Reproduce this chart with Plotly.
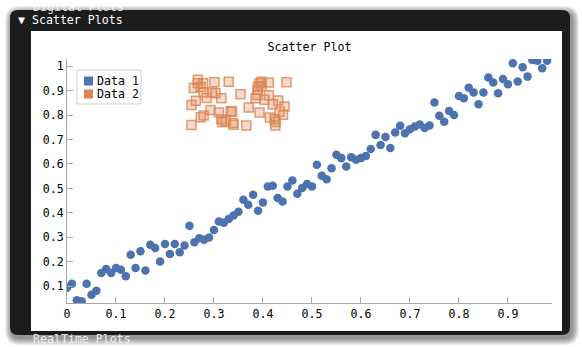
import plotly.graph_objects as go

# ---------------- data ----------------
data1_x = [i * 0.01 for i in range(100)]
data1_y = [0.094, 0.111, 0.043, 0.039, 0.111, 0.066, 0.082, 0.155, 0.171, 0.155,
           0.175, 0.168, 0.141, 0.229, 0.175, 0.243, 0.165, 0.270, 0.257, 0.202,
           0.273, 0.232, 0.273, 0.239, 0.267, 0.348, 0.280, 0.297, 0.290, 0.300,
           0.330, 0.365, 0.360, 0.375, 0.390, 0.405, 0.454, 0.433, 0.474, 0.409,
           0.443, 0.508, 0.511, 0.461, 0.447, 0.508, 0.533, 0.478, 0.502, 0.518,
           0.508, 0.597, 0.552, 0.538, 0.583, 0.638, 0.624, 0.590, 0.628, 0.617,
           0.624, 0.633, 0.661, 0.719, 0.678, 0.710, 0.665, 0.729, 0.756, 0.726,
           0.742, 0.753, 0.761, 0.747, 0.757, 0.851, 0.797, 0.773, 0.817, 0.800,
           0.878, 0.869, 0.912, 0.892, 0.844, 0.892, 0.953, 0.933, 0.889, 0.947,
           0.926, 1.012, 0.937, 0.995, 0.957, 1.025, 1.022, 0.991, 1.022, 1.050]

data2_x = [0.254, 0.254, 0.263, 0.259, 0.267, 0.278, 0.273, 0.279, 0.273, 0.279,
           0.293, 0.296, 0.303, 0.301, 0.315, 0.310, 0.315, 0.317, 0.330, 0.334,
           0.337, 0.339, 0.340, 0.354, 0.366, 0.371, 0.385, 0.389, 0.390, 0.393,
           0.397, 0.412, 0.393, 0.412, 0.420, 0.431, 0.444, 0.448, 0.414, 0.424,
           0.441, 0.425, 0.426, 0.389, 0.267, 0.324, 0.434, 0.397, 0.285, 0.403]
data2_y = [0.759, 0.841, 0.858, 0.910, 0.930, 0.930, 0.915, 0.892, 0.791, 0.798,
           0.821, 0.892, 0.889, 0.934, 0.869, 0.810, 0.783, 0.771, 0.936, 0.817,
           0.813, 0.767, 0.760, 0.885, 0.757, 0.831, 0.869, 0.882, 0.916, 0.930,
           0.936, 0.933, 0.810, 0.881, 0.844, 0.859, 0.835, 0.934, 0.790, 0.783,
           0.801, 0.757, 0.772, 0.903, 0.944, 0.776, 0.813, 0.919, 0.870, 0.862]

series_names = ["Data 1", "Data 2"]
x_tickvals = [0, 0.1, 0.2, 0.3, 0.4, 0.5, 0.6, 0.7, 0.8, 0.9]
x_ticktext = ["0", "0.1", "0.2", "0.3", "0.4", "0.5", "0.6", "0.7", "0.8", "0.9"]
y_tickvals = [0.1, 0.2, 0.3, 0.4, 0.5, 0.6, 0.7, 0.8, 0.9, 1.0]
y_ticktext = ["0.1", "0.2", "0.3", "0.4", "0.5", "0.6", "0.7", "0.8", "0.9", "1"]

# ---------------- style ----------------
W, H = 582, 347
L, R, T, B = 67, 552, 59, 303
BLUE = "#4C72B0"
ORANGE = "#DD8452"
FONT = "DejaVu Sans Mono"
FS = 11.6


def px(x):
    return (x - L) / (R - L)


def py(y):
    return (B - y) / (B - T)


def rrect(x0, y0, x1, y1, r):
    X0, X1 = px(x0), px(x1)
    Y0, Y1 = py(y0), py(y1)
    rx = r / (R - L)
    ry = r / (B - T)
    return (f"M{X0 + rx},{Y0} L{X1 - rx},{Y0} Q{X1},{Y0} {X1},{Y0 - ry} "
            f"L{X1},{Y1 + ry} Q{X1},{Y1} {X1 - rx},{Y1} L{X0 + rx},{Y1} "
            f"Q{X0},{Y1} {X0},{Y1 + ry} L{X0},{Y0 - ry} Q{X0},{Y0} {X0 + rx},{Y0} Z")


fig = go.Figure()

fig.add_trace(go.Scatter(
    x=data1_x, y=data1_y, mode="markers", name=series_names[0], showlegend=False,
    marker=dict(symbol="circle", size=8.5, color=BLUE, line=dict(width=0)),
    cliponaxis=True,
))
fig.add_trace(go.Scatter(
    x=data2_x, y=data2_y, mode="markers", name=series_names[1], showlegend=False,
    marker=dict(symbol="square", size=9, color="rgba(221,132,82,0.3)",
                line=dict(width=1.5, color="rgba(221,132,82,0.8)")),
    cliponaxis=True,
))

shapes = []
# soft drop shadow
for k in range(1, 8):
    shapes.append(dict(type="path", xref="paper", yref="paper", layer="below",
                       path=rrect(10 - k + 2, 10 - k + 3, 570 + k + 2, 335 + k + 3, 8 + k),
                       fillcolor="rgba(0,0,0,0.07)", line=dict(width=0)))
# dark window
shapes.append(dict(type="path", xref="paper", yref="paper", layer="below",
                   path=rrect(10, 10, 570, 335, 8),
                   fillcolor="#1b1c1e", line=dict(width=0)))
# white frame
shapes.append(dict(type="rect", xref="paper", yref="paper", layer="below",
                   x0=px(31), x1=px(562), y0=py(331), y1=py(31),
                   fillcolor="#ffffff", line=dict(width=0)))
# legend box and colour keys
shapes.append(dict(type="rect", xref="paper", yref="paper", layer="above",
                   x0=px(77), x1=px(141), y0=py(104), y1=py(70),
                   fillcolor="#ffffff", line=dict(width=1, color="#cfcfcf")))
legend_colors = [BLUE, ORANGE]
legend_rows = [81, 94]
for c, yc in zip(legend_colors, legend_rows):
    shapes.append(dict(type="rect", xref="paper", yref="paper", layer="above",
                       x0=px(84), x1=px(93), y0=py(yc + 4.5), y1=py(yc - 4.5),
                       fillcolor=c, line=dict(width=0)))

annotations = [
    dict(text="▼ Scatter Plots", xref="paper", yref="paper", x=px(16), y=py(20),
         xanchor="left", yanchor="middle", showarrow=False,
         font=dict(family=FONT, size=FS, color="#ffffff")),
    dict(text="Digital Plots", xref="paper", yref="paper", x=px(31), y=py(7),
         xanchor="left", yanchor="middle", showarrow=False,
         font=dict(family=FONT, size=FS, color="rgba(255,255,255,0.85)")),
    dict(text="RealTime Plots", xref="paper", yref="paper", x=px(31), y=py(339),
         xanchor="left", yanchor="middle", showarrow=False,
         font=dict(family=FONT, size=FS, color="rgba(255,255,255,0.85)")),
]
for name, yc in zip(series_names, legend_rows):
    annotations.append(dict(text=name, xref="paper", yref="paper", x=px(95), y=py(yc),
                            xanchor="left", yanchor="middle", showarrow=False,
                            font=dict(family=FONT, size=FS, color="#000000")))

fig.update_layout(
    width=W, height=H,
    margin=dict(l=L, r=W - R, t=T, b=H - B, pad=0),
    paper_bgcolor="#ffffff",
    plot_bgcolor="#eaf0fd",
    font=dict(family=FONT, size=FS, color="#000000"),
    title=dict(text="Scatter Plot", x=px(309.5), xref="paper", xanchor="center",
               y=1 - 47 / H, yref="container", yanchor="middle",
               font=dict(family=FONT, size=FS, color="#000000")),
    showlegend=False,
    shapes=shapes,
    annotations=annotations,
    xaxis=dict(range=[0, 0.99], tickvals=x_tickvals, ticktext=x_ticktext,
               showgrid=True, gridcolor="#ffffff", gridwidth=1, zeroline=False,
               showline=True, linecolor="#a8a8a8", linewidth=1,
               ticks="inside", ticklen=6, tickcolor="#a8a8a8",
               tickfont=dict(family=FONT, size=FS, color="#000000")),
    yaxis=dict(range=[0.032, 1.029], tickvals=y_tickvals, ticktext=y_ticktext,
               showgrid=True, gridcolor="#ffffff", gridwidth=1, zeroline=False,
               showline=True, linecolor="#a8a8a8", linewidth=1,
               ticks="inside", ticklen=6, tickcolor="#a8a8a8",
               tickfont=dict(family=FONT, size=FS, color="#000000")),
)

fig.write_html("out.html")
